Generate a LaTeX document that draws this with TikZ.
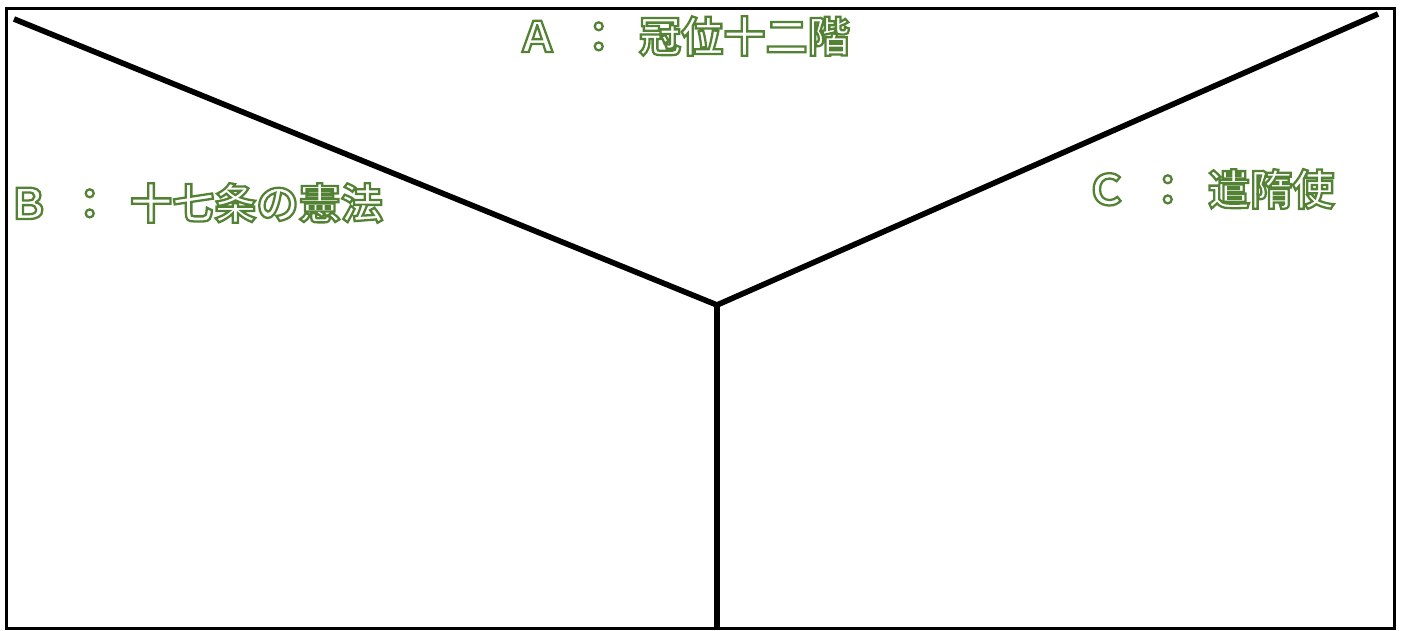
\documentclass[tikz,border=0pt]{standalone}
\usepackage{fontspec}
\usepackage{xcolor}
\usepackage{tikz}
\usetikzlibrary{positioning}
\newfontfamily\jpfont[WordSpace=2]{Noto Sans CJK JP Bold}
\definecolor{kanagreen}{RGB}{84,130,53}
\newcommand{\outlinetext}[1]{\special{pdf:literal direct 1 Tr 1.3 w}#1\special{pdf:literal direct 0 Tr}}

\begin{document}
\begin{tikzpicture}[
    frame/.style={draw=black, line width=1.9pt},
    split/.style={draw=black, line width=3.2pt},
    answer/.style={font=\jpfont\fontsize{24}{28}\selectfont, text=kanagreen, inner sep=0pt, anchor=base west}
]
\useasboundingbox (0,0) rectangle (28.04,12.6);
\draw[frame] (0.13,0.03) rectangle (27.89,12.43);

% Nodes
\coordinate (apex) at (14.34,6.5);
\coordinate (tl) at (0.28,12.22);
\coordinate (tr) at (27.56,12.32);
\coordinate (bot) at (14.34,0.03);
\node[answer] (labA) at (10.32,11.56) {\outlinetext{Ａ ： 冠位十二階}};
\node[answer] (labB) at (0.14,8.22) {\outlinetext{Ｂ ： 十七条の憲法}};
\node[answer] (labC) at (21.7,8.5) {\outlinetext{Ｃ ： 遣隋使}};

% Edges
\draw[split] (tl) -- (apex) -- (tr);
\draw[split] (apex) -- (bot);
\end{tikzpicture}
\end{document}
